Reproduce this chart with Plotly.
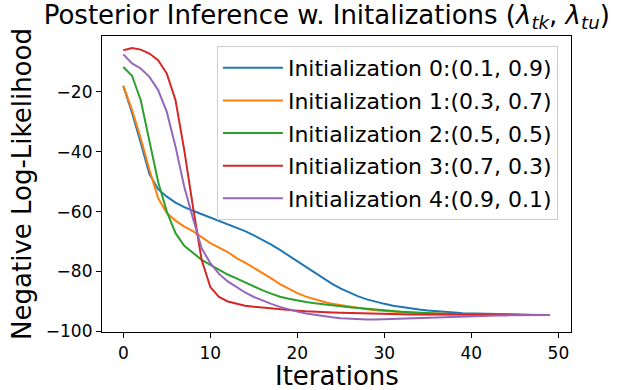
import plotly.graph_objects as go

iterations = list(range(50))

init0 = [-18, -27, -37, -47.5, -52.5, -55, -57, -58.5, -59.7, -60.8,
         -62, -63, -64.1, -65.3, -66.5, -67.9, -69.4, -71.0, -72.8, -74.7,
         -76.6, -78.5, -80.4, -82.3, -84.1, -85.7, -87, -88.3, -89.3, -90.1,
         -90.8, -91.4, -91.9, -92.3, -92.7, -93, -93.3, -93.5, -93.7, -93.9,
         -94.0, -94.1, -94.2, -94.3, -94.35, -94.4, -94.45, -94.5, -94.5, -94.5]
init1 = [-18, -26, -35.5, -46, -55.5, -60.5, -63, -65, -66.5, -68.5,
         -70.5, -72, -73.5, -75.5, -77, -78.8, -80.5, -82.3, -84.2, -85.8,
         -87.2, -88.4, -89.3, -90.1, -90.8, -91.3, -91.8, -92.2, -92.6, -92.9,
         -93.2, -93.4, -93.6, -93.8, -93.9, -94.0, -94.1, -94.2, -94.3, -94.35,
         -94.4, -94.42, -94.45, -94.47, -94.5, -94.5, -94.5, -94.5, -94.5, -94.5]
init2 = [-11.7, -14.6, -22.8, -36.1, -50, -60, -67.2, -71.4, -73.9, -76.1,
         -77.8, -79.4, -81, -82.3, -83.7, -85.0, -86.3, -87.4, -88.4, -89.1,
         -89.7, -90.2, -90.6, -91.0, -91.3, -91.6, -91.9, -92.2, -92.5, -92.8,
         -93.0, -93.2, -93.4, -93.6, -93.8, -93.9, -94.0, -94.1, -94.2, -94.3,
         -94.35, -94.4, -94.42, -94.45, -94.47, -94.5, -94.5, -94.5, -94.5, -94.5]
init3 = [-6.1, -5.4, -5.9, -7.2, -9.4, -13.9, -22.8, -39.4, -58.3, -76.1,
         -85.2, -88.5, -90, -90.8, -91.4, -91.8, -92.1, -92.4, -92.7, -92.9,
         -93.1, -93.3, -93.5, -93.6, -93.7, -93.8, -93.9, -94.0, -94.1, -94.15,
         -94.2, -94.25, -94.3, -94.33, -94.36, -94.38, -94.4, -94.42, -94.44, -94.45,
         -94.46, -94.47, -94.48, -94.49, -94.5, -94.5, -94.5, -94.5, -94.5, -94.5]
init4 = [-7.5, -10.5, -12.2, -15, -19.4, -26.7, -38.3, -51.7, -62.2, -72.2,
         -77.2, -80.8, -83.3, -85.2, -87, -88.5, -89.7, -90.8, -91.8, -92.7,
         -93.4, -94, -94.5, -94.9, -95.3, -95.6, -95.8, -95.9, -96, -96,
         -95.9, -95.8, -95.7, -95.6, -95.4, -95.3, -95.2, -95.1, -95, -94.9,
         -94.85, -94.8, -94.75, -94.7, -94.65, -94.6, -94.6, -94.55, -94.55, -94.5]

series = [init0, init1, init2, init3, init4]
labels = ["Initialization 0:(0.1, 0.9)", "Initialization 1:(0.3, 0.7)",
          "Initialization 2:(0.5, 0.5)", "Initialization 3:(0.7, 0.3)",
          "Initialization 4:(0.9, 0.1)"]
colors = ["#1f77b4", "#ff7f0e", "#2ca02c", "#d62728", "#9467bd"]

x_ticks = [0, 10, 20, 30, 40, 50]
y_ticks = [-20, -40, -60, -80, -100]

fig = go.Figure()
for i, (ys, lab, c) in enumerate(zip(series, labels, colors)):
    fig.add_trace(go.Scatter(x=iterations, y=ys, mode="lines", name=lab,
                             legendgroup=str(i),
                             line=dict(color=c, width=2)))

font = "DejaVu Sans"
axis_common = dict(showline=True, linecolor="black", linewidth=1.2, mirror=True,
                   ticks="outside", ticklen=5, tickcolor="black", tickwidth=1,
                   showgrid=False, zeroline=False, automargin=False,
                   tickfont=dict(family=font, size=17, color="black"))

fig.update_layout(
    width=626, height=390,
    margin=dict(l=102, r=55, t=36, b=58),
    paper_bgcolor="white", plot_bgcolor="white",
    font=dict(family=font, color="black"),
    title=dict(text="Posterior Inference w. Initalizations (<i>λ</i><sub><i>tk</i></sub>, <i>λ</i><sub><i>tu</i></sub>)",
               x=0.522, xanchor="center", y=0.962, yanchor="middle",
               font=dict(family=font, size=26, color="black")),
    xaxis=dict(range=[-2.45, 51.45], tickvals=x_ticks, **axis_common),
    yaxis=dict(range=[-100.2, -1.35], tickvals=y_ticks,
               title=dict(text="Negative Log-Likelihood", font=dict(family=font, size=26), standoff=6),
               **axis_common),
    legend=dict(x=0.245, y=0.966, xanchor="left", yanchor="top",
                bgcolor="rgba(255,255,255,0.8)", bordercolor="#cccccc", borderwidth=1,
                font=dict(family=font, size=22, color="black"),
                tracegroupgap=1, itemwidth=60),
    showlegend=True,
    annotations=[dict(text="Iterations", xref="paper", yref="paper", x=0.5, y=-0.148,
                      xanchor="center", yanchor="middle", showarrow=False,
                      font=dict(family=font, size=26, color="black"))],
)

fig.write_html("out.html", config={"displayModeBar": False},
               post_script="document.body.style.margin='0';document.body.style.overflow='hidden';")
